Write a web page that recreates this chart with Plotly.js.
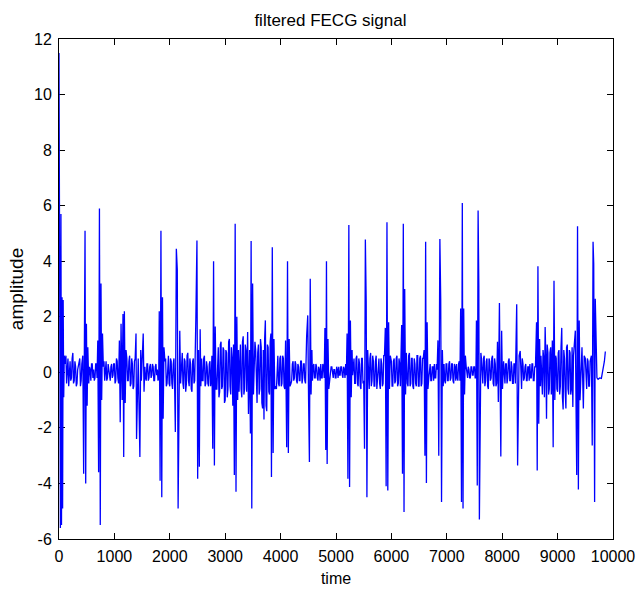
<!DOCTYPE html>
<html>
<head>
<meta charset="utf-8">
<script src="https://cdn.plot.ly/plotly-3.0.1.min.js"></script>
<style>html,body{margin:0;padding:0;background:#fff;}#chart{width:636px;height:592px;}</style>
</head>
<body>
<div id="chart"></div>
<script>
// Baseline (between-beat) signal, read every 25 samples from t = 0 to 9700
const noiseStep = 25;
const noise = [
  0.0, 0.2, -0.4, 0.5, -0.6, 0.6, 0.1, -0.5, 0.4, -0.2, 0.7, -0.3, 0.2, -0.4, 0.3, 0.5, -0.3, 0.2, -0.5, 0.6,
  0.4, -0.3, 0.2, -0.3, 0.3, 0.1, -0.2, 0.3, -0.1, 0.2, -0.4, 0.3, 0.2, -0.3, 0.4, -0.2, 0.1, -0.3, 0.3, -0.1,
  0.3, -0.3, 0.4, -0.4, 0.6, 0.2, -0.5, 0.4, -0.6, 0.5, -0.3, 0.6, -0.4, 0.3, -0.5, 0.5, -0.2, 0.4, -0.5, 0.3,
  0.4, -0.4, 0.2, -0.3, 0.3, -0.2, 0.3, -0.1, 0.2, -0.3, 0.3, 0.1, -0.2, 0.4, -0.3, 0.2, -0.6, 0.5, -0.4, 0.6,
  -0.5, 0.4, -0.6, 0.5, -0.3, 0.6, -0.2, 0.3, -0.5, 0.7, -0.6, 0.4, -0.4, 0.7, -0.5, 0.3, -0.7, 0.5, -0.3, 0.6,
  -0.4, 0.3, -0.5, 0.5, -0.3, 0.6, -0.4, 0.2, -0.5, 0.4, -0.2, 0.5, -0.4, 0.3, -0.6, 0.9, -0.7, 1.1, -0.5, 0.8,
  -1.0, 0.7, -0.6, 1.2, -0.8, 0.5, -1.1, 0.9, -0.3, 0.6, -0.7, 1.0, -0.9, 1.3, -0.6, 0.8, -1.2, 0.7, -0.5, 0.9,
  0.9, -0.7, 0.8, -1.1, 1.0, -0.6, 0.9, -1.3, -1.7, 1.87, -1.4, 0.9, -0.8, 1.4, 1.2, -0.9, 0.5, -0.6, 0.6, -0.5,
  0.6, -0.4, 0.5, -0.6, 0.3, 0.2, -0.4, 0.3, -0.3, 0.4, -0.2, 0.3, -0.4, 0.2, -0.3, 0.4, -0.2, 0.3, -0.4, 0.5,
  0.3, -0.4, 0.2, -0.3, 0.3, -0.2, 0.2, -0.3, 0.1, 0.3, -0.2, 0.2, -0.1, 0.3, -0.3, 0.2, -0.1, 0.2, -0.2, 0.1,
  -0.2, 0.1, 0.2, -0.1, 0.2, -0.2, 0.1, 0.3, -0.2, 0.2, -0.3, 0.4, -0.1, 0.5, -0.4, 0.6, -0.5, 0.3, -0.6, 0.5,
  -0.3, 0.2, -0.4, 0.5, -0.6, 0.7, -0.3, 0.4, -0.5, 0.6, -0.2, 0.5, -0.6, 0.3, -0.4, 0.6, -0.5, 0.2, 0.4, -0.3,
  0.4, -0.5, 0.5, -0.3, 0.6, -0.4, 0.3, 0.6, -0.2, 0.5, -0.6, 0.4, -0.5, 0.7, -0.4, 0.5, -0.6, 0.3, -0.5, 0.6,
  -0.5, 0.6, -0.4, 0.5, 0.2, -0.3, 0.3, -0.2, 0.3, -0.3, 0.2, 0.3, -0.2, 0.1, 0.3, -0.2, 0.2, -0.3, 0.3, -0.4,
  0.3, -0.3, 0.4, -0.2, 0.3, -0.4, 0.2, 0.3, -0.3, 0.4, -0.2, 0.3, -0.3, 0.4, 0.2, -0.2, 0.1, -0.2, 0.2, -0.1,
  0.2, -0.2, 0.3, -0.3, 0.2, 0.5, -0.4, 0.6, -0.3, 0.5, -0.6, 0.4, -0.2, 0.6, -0.5, 0.3, -0.4, 0.5, -0.3, 0.4,
  -0.3, 0.4, -0.4, 0.3, -0.2, 0.5, -0.3, 0.2, -0.4, 0.3, -0.3, 0.4, -0.2, 0.77, -0.6, 0.3, -0.2, 0.3, -0.3, 0.2,
  0.3, -0.2, 0.3, -0.3, 0.2, 0.3, -0.4, 0.2, 0.6, -0.8, 0.5, 1.63, -1.67, 0.7, -0.6, 0.9, -0.5, 0.4, -0.7, 0.5,
  -0.7, 0.8, -0.5, 1.6, -1.34, 0.5, -1.3, 1.0, -0.8, 0.7, -0.6, -1.25, 0.9, -0.4, 0.5, -0.6, 0.6, -0.5, 0.4, -0.3,
  0.5, -0.6, 0.4, -0.5, 0.6, -0.3, 0.3, -0.2, 0.1
];
// Second baseline reading, half a step later (t = 12, 37, 62, ...)
const noise2Offset = 12;
const noise2 = [
  -0.3, 0.4, -0.2, -0.5, 0.3, -0.4, 0.5, 0.2, -0.3, 0.5, -0.4, 0.4, -0.5, 0.1, 0.4, -0.5, 0.3, -0.4, 0.2, -0.3,
  0.2, -0.4, 0.1, 0.3, -0.2, -0.3, 0.3, -0.2, 0.3, -0.3, 0.1, -0.2, 0.4, 0.2, -0.3, 0.3, -0.2, 0.2, -0.2, 0.3,
  -0.4, 0.5, -0.2, 0.3, -0.5, 0.4, 0.3, -0.6, 0.5, -0.3, 0.4, -0.5, 0.5, -0.6, 0.4, -0.3, 0.5, -0.4, 0.3, -0.3,
  -0.3, 0.3, -0.2, 0.3, -0.3, 0.2, -0.2, 0.3, -0.3, 0.2, -0.1, -0.3, 0.3, -0.2, 0.2, -0.4, 0.4, -0.5, 0.6, -0.4,
  0.5, -0.4, 0.3, -0.5, 0.6, -0.4, 0.5, -0.6, 0.3, -0.4, 0.5, -0.7, 0.6, -0.3, 0.5, -0.6, 0.4, -0.4, 0.7, -0.5,
  0.5, -0.5, 0.4, -0.3, 0.5, -0.5, 0.4, -0.4, 0.3, -0.5, 0.4, -0.3, 0.5, -0.5, 0.7, -0.9, 1.0, -0.6, 0.9, -1.1,
  0.8, -0.9, 1.1, -0.5, 0.9, -1.2, 0.6, -0.7, 1.0, -0.9, 0.8, -0.6, 1.1, -0.8, 1.0, -0.7, 0.9, -1.0, 1.2, -0.8,
  -0.9, 1.1, -1.0, 0.7, -0.8, 1.2, -1.1, 0.8, 1.2, -1.2, 1.0, -0.7, 1.1, -0.6, -0.9, 0.8, -0.5, 0.6, -0.4, 0.5,
  -0.5, 0.6, -0.5, 0.4, -0.3, -0.3, 0.4, -0.4, 0.3, -0.3, 0.4, -0.3, 0.3, -0.3, 0.4, -0.4, 0.3, -0.3, 0.3, -0.4,
  -0.3, 0.3, -0.3, 0.2, -0.2, 0.3, -0.2, 0.2, -0.3, -0.2, 0.3, -0.2, 0.2, -0.2, 0.2, -0.2, 0.2, -0.1, 0.1, -0.2,
  0.2, -0.2, -0.1, 0.2, -0.1, 0.2, -0.2, -0.1, 0.2, -0.2, 0.3, -0.3, 0.4, -0.4, 0.5, -0.4, 0.5, -0.5, 0.5, -0.4,
  0.4, -0.5, 0.5, -0.4, 0.5, -0.5, 0.6, -0.5, 0.4, -0.6, 0.5, -0.4, 0.5, -0.5, 0.6, -0.4, 0.4, -0.5, -0.4, 0.5,
  -0.5, 0.4, -0.4, 0.5, -0.5, 0.5, -0.5, -0.4, 0.5, -0.5, 0.6, -0.4, 0.6, -0.5, 0.5, -0.5, 0.5, -0.4, 0.6, -0.5,
  0.5, -0.5, 0.5, -0.4, -0.3, 0.3, -0.2, 0.3, -0.3, 0.2, -0.3, -0.2, 0.3, -0.3, -0.2, 0.3, -0.3, 0.3, -0.3, 0.3,
  -0.3, 0.3, -0.3, 0.3, -0.3, 0.3, -0.3, -0.2, 0.3, -0.3, 0.3, -0.3, 0.3, -0.2, -0.2, 0.2, -0.2, 0.2, -0.1, 0.2,
  -0.2, 0.2, -0.2, 0.2, -0.2, -0.4, 0.5, -0.5, 0.4, -0.5, 0.5, -0.3, 0.5, -0.4, 0.5, -0.5, 0.4, -0.4, 0.4, -0.4,
  0.4, -0.3, 0.3, -0.4, 0.4, -0.3, 0.4, -0.4, 0.3, -0.4, 0.3, -0.3, 0.4, -0.3, 0.5, -0.3, 0.2, -0.3, 0.2, -0.3,
  -0.2, 0.3, -0.3, 0.2, -0.3, -0.3, 0.3, -0.3, -0.7, 0.8, -0.9, 0.6, 1.0, -0.8, 0.7, -0.8, 0.6, -0.5, 0.6, -0.6,
  0.7, -0.8, 0.9, -0.9, 0.8, -0.7, 0.9, -0.6, 0.8, -0.8, 0.9, 0.6, -0.8, 0.5, -0.6, 0.5, -0.5, 0.6, -0.5, 0.4,
  -0.5, 0.5, -0.5, 0.4, -0.5, 0.3, -0.3, 0.2, -0.1
];

// Spike (QRS complex) vertices: time and amplitude
const spikeT = [
  0, 8, 15, 25, 35, 45, 55, 65, 75, 85, 95,
  430, 445, 458, 470, 482, 495, 508, 520,
  700, 715, 730, 745, 758, 770, 785,
  1090, 1105, 1120, 1140, 1155, 1168, 1180, 1195, 1210,
  1390, 1400, 1430, 1460, 1475, 1520, 1535,
  1810, 1825, 1840, 1855, 1868, 1880, 1895,
  2100, 2118, 2135, 2150, 2165, 2180, 2195,
  2470, 2490, 2503, 2518, 2533, 2548, 2560,
  2760, 2775, 2790, 2805, 2820, 2835,
  3150, 3165, 3180, 3195, 3210, 3225, 3240,
  3405, 3420, 3440, 3455, 3468, 3480, 3495, 3510, 3525,
  3835, 3850, 3865, 3880, 3895,
  4090, 4110, 4125, 4140, 4155, 4170,
  4470, 4490, 4505, 4520, 4535, 4550, 4565,
  4800, 4815, 4828, 4840, 4855, 4870,
  5200, 5215, 5232, 5245, 5260, 5275, 5290,
  5515, 5530, 5545, 5558, 5572, 5590,
  5890, 5905, 5920, 5935, 5950, 5965, 5980,
  6185, 6200, 6215, 6228, 6240, 6255, 6270,
  6590, 6605, 6618, 6632, 6645, 6660,
  6840, 6855, 6875, 6890, 6905, 6920, 6935,
  7250, 7265, 7280, 7293, 7305, 7320, 7335,
  7535, 7550, 7565, 7578, 7588, 7602, 7615,
  7915, 7930, 7950, 7975, 7990, 8005,
  8250, 8262, 8278, 8292, 8305,
  8620, 8632, 8645, 8660, 8675, 8690,
  8905, 8920, 8935, 8950, 8965,
  9320, 9345, 9360, 9375, 9390, 9405, 9440, 9465, 9480,
  9610, 9625, 9640, 9652, 9668, 9680, 9695, 9710,
  9730, 9760, 9790, 9820, 9845, 9862
];
const spikeV = [
  11.5, 7.2, 6.0, -5.6, 5.7, -5.5, 2.7, -4.9, 2.6, -0.9, 0.6,
  0.6, -3.65, 3.3, 5.1, -4.0, 1.75, -1.2, 0.9,
  1.15, -3.6, 5.9, -5.5, 3.2, -1.0, 1.4,
  1.15, -1.8, 1.75, -1.0, 2.1, -3.05, 2.2, -1.1, 0.8,
  1.4, -2.4, 0.5, -3.05, 0.8, 1.4, -0.7,
  2.2, -3.9, 5.1, -4.5, 2.7, -1.67, 0.9,
  -2.15, 4.45, 3.7, -4.9, -2.4, 1.5, -0.4,
  1.9, 4.75, -3.83, 0.8, -3.4, 1.55, -0.5,
  0.6, -2.75, 4.0, -3.35, 1.65, -0.6,
  1.0, -3.7, 5.35, -4.3, 2.0, -1.0, 0.8,
  1.45, -1.5, 0.8, -2.2, 4.73, -4.9, 3.2, -0.8, 1.0,
  -3.77, 4.5, -2.9, 1.2, -0.6,
  1.15, -2.7, 4.0, -2.9, 1.2, -0.5,
  1.3, 2.05, -1.0, -3.23, 3.37, -0.8, 0.8,
  1.6, -2.8, 4.0, -3.3, 1.2, -0.6,
  1.4, -3.83, 5.3, -4.13, 1.87, -0.9, 0.8,
  -2.75, 4.78, 2.53, -4.5, 0.8, -0.6,
  1.6, -4.1, 5.4, -4.25, 1.8, -0.6, 0.6,
  1.7, -3.65, 5.35, -5.03, 3.0, -0.8, 0.7,
  0.8, -3.0, 4.7, -3.98, 1.8, -0.6,
  1.15, -3.0, 4.8, 2.65, -4.67, 0.8, -0.5,
  2.3, -4.67, 6.1, -4.9, 2.3, -0.8, 0.6,
  1.87, -4.07, 5.83, 3.13, -5.3, -0.8, 0.7,
  1.1, -1.07, 2.5, -3.03, 1.5, -0.6,
  0.9, 2.45, -3.35, -1.1, 0.6,
  1.8, -3.53, 3.82, -1.85, 1.2, -0.5,
  1.15, -2.7, 3.3, -1.0, 0.6,
  1.5, -3.7, 5.26, -4.22, 1.87, -1.0, 0.9, -1.3, 0.6,
  0.6, -2.63, 4.7, 3.9, -4.67, 2.65, 0.2, -0.2,
  -0.25, -0.2, -0.22, 0.1, 0.4, 0.75
];

const xTicks = [0, 1000, 2000, 3000, 4000, 5000, 6000, 7000, 8000, 9000, 10000];
const yTicks = [-6, -4, -2, 0, 2, 4, 6, 8, 10, 12];

// Group spike vertices into complexes; baseline samples inside a complex are left out
const ranges = [];
for (let i = 0; i < spikeT.length; i++) {
  const t = spikeT[i];
  if (ranges.length && t - ranges[ranges.length - 1][1] < 45) ranges[ranges.length - 1][1] = t;
  else ranges.push([t, t]);
}
const inComplex = t => ranges.some(r => t >= r[0] - 8 && t <= r[1] + 8);
const pts = [];
for (let i = 0; i < spikeT.length; i++) pts.push([spikeT[i], spikeV[i]]);
for (let i = 0; i < noise.length; i++) {
  const t = i * noiseStep;
  if (!inComplex(t)) pts.push([t, noise[i]]);
}
for (let i = 0; i < noise2.length; i++) {
  const t = i * noiseStep + noise2Offset;
  if (!inComplex(t)) pts.push([t, noise2[i]]);
}
pts.sort((a, b) => a[0] - b[0]);
const xs = pts.map(p => p[0]);
const ys = pts.map(p => p[1]);

const font = 'Liberation Sans, Arial, Helvetica, sans-serif';
const axisCommon = {
  showline: true, linecolor: '#000', linewidth: 1, mirror: 'ticks',
  ticks: 'inside', ticklen: 6, tickwidth: 1, tickcolor: '#000',
  showgrid: false, zeroline: false, layer: 'below traces',
  ticklabelstandoff: 3,
  tickfont: {family: font, size: 16, color: '#000'}
};

Plotly.newPlot('chart', [{
  x: xs, y: ys, type: 'scatter', mode: 'lines',
  line: {color: '#0000FF', width: 1.3}, hoverinfo: 'skip'
}], {
  width: 636, height: 592,
  paper_bgcolor: '#fff', plot_bgcolor: '#fff',
  margin: {l: 59, r: 23, t: 39, b: 53, pad: 0},
  showlegend: false,
  title: {text: 'filtered FECG signal', font: {family: font, size: 17, color: '#000'},
          x: 0.49, xref: 'paper', xanchor: 'center', y: 0.966, yref: 'container', yanchor: 'middle'},
  xaxis: Object.assign({}, axisCommon, {
    range: [0, 10000], tickvals: xTicks, ticktext: xTicks.map(String),
    title: {text: 'time', font: {family: font, size: 16, color: '#000'}, standoff: 8}
  }),
  yaxis: Object.assign({}, axisCommon, {
    range: [-6, 12], tickvals: yTicks, ticktext: yTicks.map(String),
    title: {text: 'amplitude', font: {family: font, size: 19, color: '#000'}, standoff: 5}
  })
}, {staticPlot: true, displayModeBar: false});
</script>
</body>
</html>
